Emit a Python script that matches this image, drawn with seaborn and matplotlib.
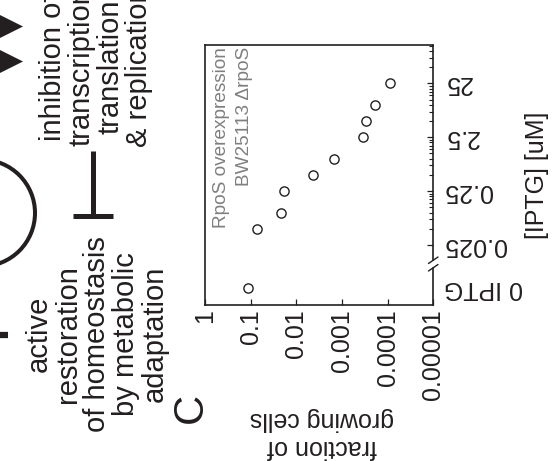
import numpy as np
import pandas as pd
import matplotlib
matplotlib.use("Agg")
import matplotlib.pyplot as plt
from matplotlib.lines import Line2D
from matplotlib.patches import Polygon, Arc
from matplotlib.ticker import FixedLocator, FixedFormatter, LogLocator, NullFormatter
import seaborn as sns

# IPTG induction of RpoS (uM) and the fraction of cells that keep growing
iptg_uM = [0, 0.05, 0.1, 0.25, 0.5, 1, 2.5, 5, 10, 25]
growing_fraction = [0.113, 0.074, 0.0217, 0.0183, 0.00425, 0.00152,
                    0.000352, 0.000302, 0.000189, 0.0000887]

iptg_ticks = [0, 0.025, 0.25, 2.5, 25]
iptg_tick_labels = ["0 IPTG", "0.025", "0.25", "2.5", "25"]
fraction_ticks = [1, 0.1, 0.01, 0.001, 0.0001, 0.00001]
fraction_tick_labels = ["1", "0.1", "0.01", "0.001", "0.0001", "0.00001"]

W, H = 555, 461
INK = "#231f20"

sns.set_style("ticks")
plt.rcParams["font.family"] = ["Liberation Sans", "DejaVu Sans"]
plt.rcParams["text.color"] = INK


def fx(x):
    return x / W


def fy(y):
    return 1 - y / H


fig = plt.figure(figsize=(W / 100, H / 100), dpi=100)
ax = fig.add_axes([fx(205), fy(305), (433.3 - 205) / W, 260 / H])

df = pd.DataFrame({"iptg": iptg_uM, "fraction": growing_fraction})
sns.scatterplot(data=df, x="fraction", y="iptg", ax=ax, marker="o", s=44,
                color="white", edgecolor=INK, linewidth=1.0, zorder=3)

# IPTG axis: log decades with the uninduced (0) row parked below a break
ZERO_POS = -2.405


def _fwd(v):
    v = np.asarray(v, dtype=float)
    pos = v > 0
    return np.where(pos, np.log10(np.where(pos, v, 1.0)), ZERO_POS)


def _inv(t):
    return np.power(10.0, np.asarray(t, dtype=float))


ax.set_yscale("function", functions=(_fwd, _inv))
ax.set_xscale("log")
ax.set_xlim(1, 1e-5)
ax.set_ylim(10 ** -2.715, 10 ** 2.109)

ax.xaxis.set_major_locator(FixedLocator(fraction_ticks))
ax.xaxis.set_major_formatter(FixedFormatter(fraction_tick_labels))
ax.xaxis.set_minor_locator(LogLocator(base=10, subs=np.arange(2, 10)))
ax.xaxis.set_minor_formatter(NullFormatter())

iptg_minor = [2.5 * m * 10.0 ** k for k in range(-2, 2) for m in range(2, 10)]
ax.yaxis.set_major_locator(FixedLocator(iptg_ticks))
ax.yaxis.set_major_formatter(FixedFormatter(iptg_tick_labels))
ax.yaxis.set_minor_locator(FixedLocator(iptg_minor))
ax.yaxis.set_minor_formatter(NullFormatter())

ax.yaxis.tick_right()
ax.tick_params(axis="x", which="both", direction="in", bottom=True, top=False,
               color=INK, labelcolor=INK)
ax.tick_params(axis="x", which="major", length=4, width=0.9, pad=3,
               labelsize=18, labelrotation=90)
ax.tick_params(axis="x", which="minor", length=2.2, width=0.8)
ax.tick_params(axis="y", which="both", direction="in", left=False, right=True,
               labelleft=False, labelright=True, color=INK, labelcolor=INK)
ax.tick_params(axis="y", which="major", length=4.5, width=0.9, pad=7.5,
               labelsize=18, labelrotation=180)
ax.tick_params(axis="y", which="minor", length=3.2, width=0.8)
for i, tk in enumerate(ax.yaxis.get_major_ticks()):
    tk.label2.set_verticalalignment("center")
    if i == 0:
        tk.tick2line.set_visible(False)

for side in ("left", "top", "bottom"):
    ax.spines[side].set_color(INK)
    ax.spines[side].set_linewidth(1.2)
ax.spines["right"].set_visible(False)

# broken right spine with a // mark
for y0, y1 in [(45, 260), (268, 305)]:
    fig.add_artist(Line2D([fx(433.3), fx(433.3)], [fy(y0), fy(y1)],
                          transform=fig.transFigure, color=INK, lw=1.2))
for (x0, y0), (x1, y1) in [((428.5, 263.5), (438, 257)), ((428.5, 271), (438, 264.5))]:
    fig.add_artist(Line2D([fx(x0), fx(x1)], [fy(y0), fy(y1)],
                          transform=fig.transFigure, color=INK, lw=1.0))

ax.set_xlabel("fraction of\ngrowing cells", fontsize=18, rotation=180,
              ha="center", va="center", multialignment="center", color=INK)
ax.xaxis.set_label_coords(0.513, -0.492)
ax.yaxis.set_label_position("right")
ax.set_ylabel("[IPTG] [uM]", fontsize=18, rotation=90, color=INK)
ax.yaxis.set_label_coords(1.40, 0.5)

ax.text(fx(213), fy(47), "RpoS overexpression\nBW25113 \u0394rpoS",
        transform=fig.transFigure, rotation=90, ha="left", va="top",
        multialignment="right", fontsize=13.7, linespacing=1.44,
        color="#7f7f7f")

# panel letter and the schematic pieces to its left
fig.text(fx(191), fy(408), "C", rotation=90, ha="center", va="center",
         fontsize=30, color=INK)
fig.text(fx(97), fy(334),
         "active\nrestoration\nof homeostasis\nby metabolic\nadaptation",
         rotation=90, ha="center", va="center", multialignment="center",
         fontsize=21, linespacing=1.04, color=INK)
fig.text(fx(96), fy(67),
         "inhibition of\ntranscription\ntranslation\n& replication",
         rotation=90, ha="center", va="center", multialignment="center",
         fontsize=21, linespacing=1.04, color=INK)

for yc in (26.5, 61.5):
    fig.add_artist(Polygon([(fx(0), fy(yc - 11.5)), (fx(23), fy(yc)),
                            (fx(0), fy(yc + 11.5))], closed=True,
                           transform=fig.transFigure, color=INK, lw=0))

fig.add_artist(Line2D([fx(92.7), fx(92.7)], [fy(151), fy(216)],
                      transform=fig.transFigure, color=INK, lw=3.6,
                      solid_capstyle="butt"))
fig.add_artist(Line2D([fx(72.7), fx(112.7)], [fy(216), fy(216)],
                      transform=fig.transFigure, color=INK, lw=3.6,
                      solid_capstyle="butt"))
fig.add_artist(Arc((fx(-18.4), fy(213)), 2 * 53.4 / W, 2 * 53.4 / H,
                   theta1=-90, theta2=90, transform=fig.transFigure,
                   color=INK, lw=2.9))
fig.add_artist(Line2D([fx(0), fx(8)], [fy(334.5), fy(334.5)],
                      transform=fig.transFigure, color=INK, lw=4.5,
                      solid_capstyle="butt"))

fig.savefig("out.png", dpi=100)
